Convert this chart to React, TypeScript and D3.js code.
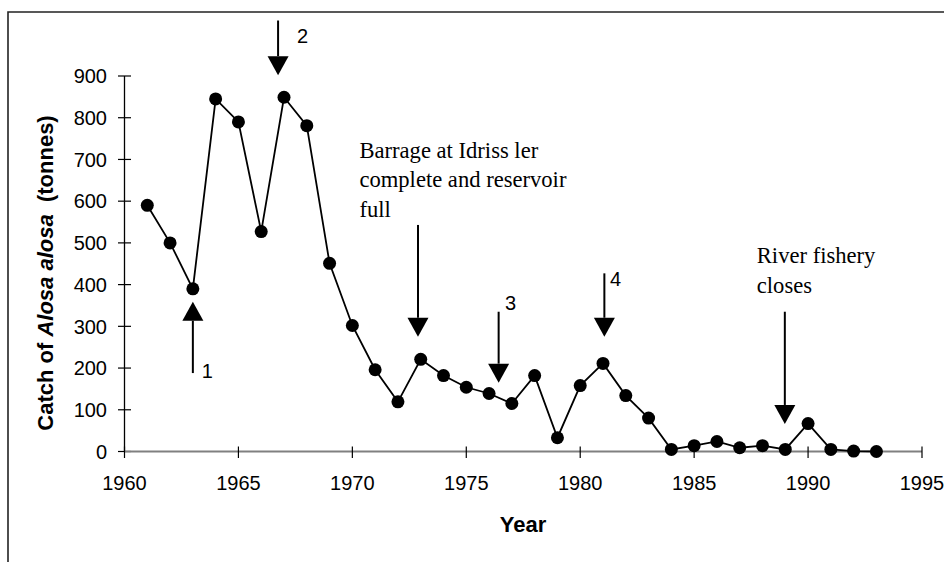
import React from "react";
import * as d3 from "d3";

const years: number[] = d3.range(1961, 1994);
const catchTonnes: number[] = [
  590, 500, 390, 845, 790, 527, 849, 781, 451, 302, 196, 119, 221, 182, 154, 139,
  115, 182, 33, 158, 211, 134, 80, 5, 14, 24, 9, 14, 5, 67, 5, 1, 0,
];
const xTicks: number[] = [1960, 1965, 1970, 1975, 1980, 1985, 1990, 1995];
const yTicks: number[] = [0, 100, 200, 300, 400, 500, 600, 700, 800, 900];

// annotation arrows (data units)
const arrowYears: number[] = [1963.0, 1966.74, 1972.88, 1976.42, 1981.06, 1988.98];
const arrowTails: number[] = [188, 1033, 543, 335, 427, 335];
const arrowTips: number[] = [359, 902, 275, 165, 275, 66];

// numbered labels
const numLabels: string[] = ["1", "2", "3", "4"];
const numLabelYears: number[] = [1963.39, 1967.57, 1976.7, 1981.31];
const numLabelValues: number[] = [176, 978, 339, 397];

// text notes
const noteLines: string[][] = [
  ["Barrage at Idriss ler", "complete and reservoir", "full"],
  ["River fishery", "closes"],
];
const noteYears: number[] = [1970.31, 1987.75];
const noteValues: number[] = [703, 451];

const W = 944;
const H = 562;
const sans = "Arial, 'Liberation Sans', sans-serif";
const serif = "'Times New Roman', 'Liberation Serif', serif";

export default function App() {
  const x = d3.scaleLinear().domain([1960, 1995]).range([124.5, 922]);
  const y = d3.scaleLinear().domain([0, 900]).range([451.5, 76]);
  const line = d3
    .line<number>()
    .x((_, i) => x(years[i]))
    .y((d) => y(d));

  const headH = 19;
  const headW = 21;

  return (
    <svg
      width={W}
      height={H}
      style={{ position: "absolute", left: 0, top: 0, background: "#fff" }}
    >
      <rect x={0} y={0} width={W} height={H} fill="#fff" />
      {/* frame */}
      <path d={`M8,${H + 10} V12 H${W + 10}`} fill="none" stroke="#222" strokeWidth={1.6} />

      {/* y axis */}
      <line x1={x(1960)} x2={x(1960)} y1={y(900)} y2={y(0)} stroke="#000" strokeWidth={1.3} />
      {yTicks.map((t) => (
        <g key={"yt" + t}>
          <line x1={118} x2={131} y1={y(t)} y2={y(t)} stroke="#000" strokeWidth={1.2} />
          <text
            x={107}
            y={y(t)}
            dy="0.36em"
            textAnchor="end"
            fontFamily={sans}
            fontSize={20}
            fill="#000"
          >
            {t}
          </text>
        </g>
      ))}

      {/* x axis */}
      <line x1={x(1960)} x2={x(1995)} y1={y(0)} y2={y(0)} stroke="#808080" strokeWidth={2} />
      {xTicks.map((t) => (
        <g key={"xt" + t}>
          <line x1={x(t)} x2={x(t)} y1={y(0) - 5} y2={y(0) + 6.5} stroke="#000" strokeWidth={1.2} />
          <text x={x(t)} y={490} textAnchor="middle" fontFamily={sans} fontSize={20} fill="#000">
            {t}
          </text>
        </g>
      ))}

      {/* axis titles */}
      <text
        x={523}
        y={531.5}
        textAnchor="middle"
        fontFamily={sans}
        fontSize={22}
        fontWeight="bold"
        fill="#000"
      >
        Year
      </text>
      <text
        transform="translate(53,273) rotate(-90)"
        textAnchor="middle"
        fontFamily={sans}
        fontSize={22}
        fontWeight="bold"
        fill="#000"
        style={{ whiteSpace: "pre" }}
      >
        <tspan>Catch of </tspan>
        <tspan fontStyle="italic">Alosa alosa</tspan>
        <tspan>{"  (tonnes)"}</tspan>
      </text>

      {/* data line */}
      <path d={line(catchTonnes) || ""} fill="none" stroke="#000" strokeWidth={1.8} />
      {catchTonnes.map((v, i) => (
        <circle key={"p" + i} cx={x(years[i])} cy={y(v)} r={6.5} fill="#000" />
      ))}

      {/* arrows */}
      {arrowYears.map((yr, i) => {
        const ax = x(yr);
        const tail = y(arrowTails[i]);
        const tip = y(arrowTips[i]);
        const dir = tail > tip ? -1 : 1; // -1 = pointing up
        const base = tip - dir * headH;
        return (
          <g key={"a" + i}>
            <line x1={ax} x2={ax} y1={tail} y2={base} stroke="#000" strokeWidth={2} />
            <path
              d={`M${ax - headW / 2},${base} L${ax + headW / 2},${base} L${ax},${tip} Z`}
              fill="#000"
            />
          </g>
        );
      })}

      {numLabels.map((s, i) => (
        <text
          key={"n" + i}
          x={x(numLabelYears[i])}
          y={y(numLabelValues[i])}
          fontFamily={sans}
          fontSize={20}
          fill="#000"
        >
          {s}
        </text>
      ))}

      {noteLines.map((lines, i) => (
        <text
          key={"note" + i}
          x={x(noteYears[i])}
          y={y(noteValues[i])}
          fontFamily={serif}
          fontSize={22.6}
          fill="#000"
        >
          {lines.map((l, j) => (
            <tspan key={j} x={x(noteYears[i])} dy={j === 0 ? 0 : 29.2}>
              {l}
            </tspan>
          ))}
        </text>
      ))}
    </svg>
  );
}
